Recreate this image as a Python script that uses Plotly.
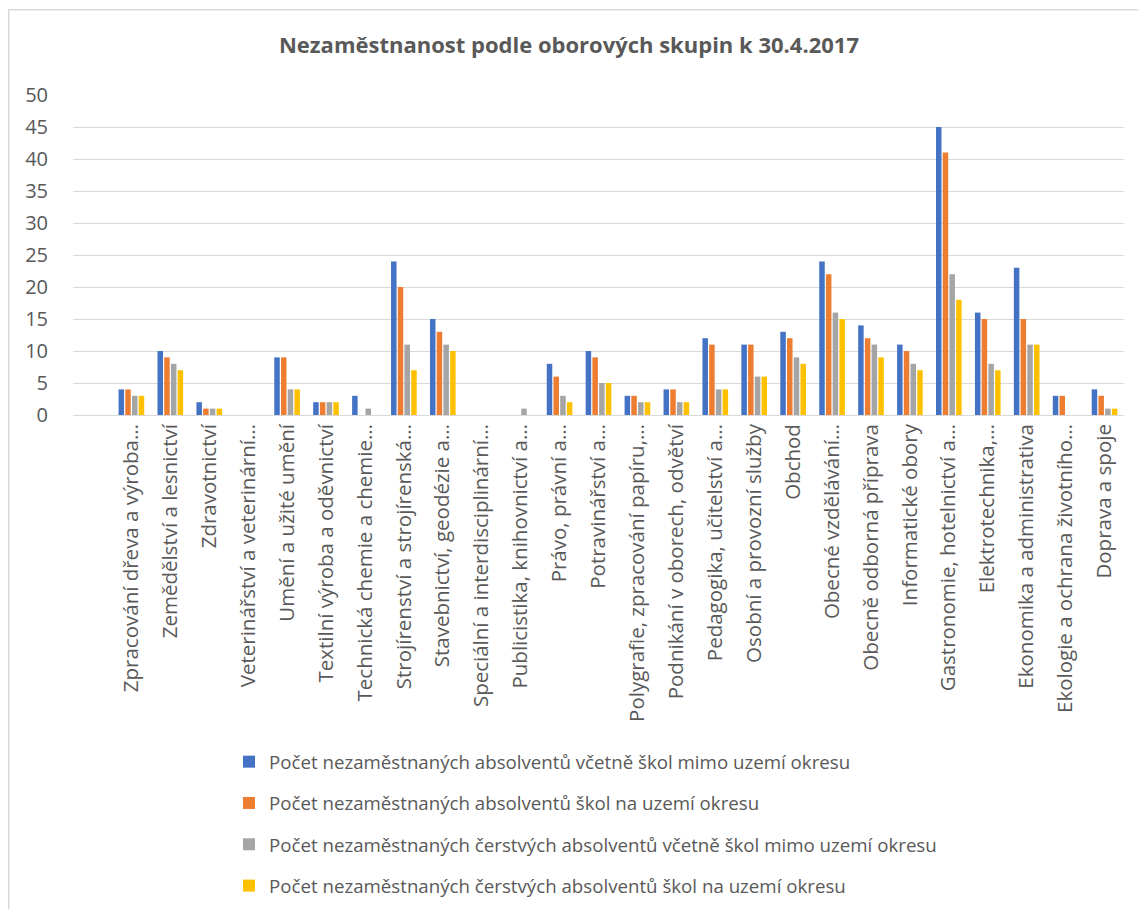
import plotly.graph_objects as go

categories = [
    "Zpracování dřeva a výroba…",
    "Zemědělství a lesnictví",
    "Zdravotnictví",
    "Veterinářství a veterinární…",
    "Umění a užité umění",
    "Textilní výroba a oděvnictví",
    "Technická chemie a chemie…",
    "Strojírenství a strojírenská…",
    "Stavebnictví, geodézie a…",
    "Speciální a interdisciplinární…",
    "Publicistika, knihovnictví a…",
    "Právo, právní a…",
    "Potravinářství a…",
    "Polygrafie, zpracování papíru,…",
    "Podnikání v oborech, odvětví",
    "Pedagogika, učitelství a…",
    "Osobní a provozní služby",
    "Obchod",
    "Obecné vzdělávání…",
    "Obecně odborná příprava",
    "Informatické obory",
    "Gastronomie, hotelnictví a…",
    "Elektrotechnika,…",
    "Ekonomika a administrativa",
    "Ekologie a ochrana životního…",
    "Doprava a spoje",
]

absolventi_vcetne_mimo = [4, 10, 2, 0, 9, 2, 3, 24, 15, 0, 0, 8, 10, 3, 4, 12, 11, 13, 24, 14, 11, 45, 16, 23, 3, 4]
absolventi_na_uzemi = [4, 9, 1, 0, 9, 2, 0, 20, 13, 0, 0, 6, 9, 3, 4, 11, 11, 12, 22, 12, 10, 41, 15, 15, 3, 3]
cerstvi_vcetne_mimo = [3, 8, 1, 0, 4, 2, 1, 11, 11, 0, 1, 3, 5, 2, 2, 4, 6, 9, 16, 11, 8, 22, 8, 11, 0, 1]
cerstvi_na_uzemi = [3, 7, 1, 0, 4, 2, 0, 7, 10, 0, 0, 2, 5, 2, 2, 4, 6, 8, 15, 9, 7, 18, 7, 11, 0, 1]

series_names = [
    "Počet nezaměstnaných absolventů včetně škol mimo uzemí okresu",
    "Počet nezaměstnaných absolventů škol na uzemí okresu",
    "Počet nezaměstnaných čerstvých absolventů včetně škol mimo uzemí okresu",
    "Počet nezaměstnaných čerstvých absolventů škol na uzemí okresu",
]
series_values = [absolventi_vcetne_mimo, absolventi_na_uzemi, cerstvi_vcetne_mimo, cerstvi_na_uzemi]
colors = ["#4472C4", "#ED7D31", "#A5A5A5", "#FFC000"]

y_ticks = list(range(0, 51, 5))

FONT = "Open Sans"
TXT = "#595959"

fig = go.Figure()
for i, (name, vals, col) in enumerate(zip(series_names, series_values, colors)):
    fig.add_trace(go.Bar(
        x=categories, y=vals, name=name, marker=dict(color=col, line=dict(width=0)),
        legendgroup=f"g{i}",
    ))

W, H = 1138, 909
L, T = 73, 95
R = W - 1124
B = H - 415
pw, ph = W - L - R, H - T - B

def px_x(x):
    return (x - L) / pw

def px_y(y):
    return (H - B - y) / ph

border = dict(color="#D9D9D9", width=1.5)

fig.update_layout(
    width=W, height=H,
    margin=dict(l=L, r=R, t=T, b=B, autoexpand=False),
    paper_bgcolor="white", plot_bgcolor="white",
    barmode="group", bargap=0.31, bargroupgap=0.18,
    font=dict(family=FONT, color=TXT),
    title=dict(
        text="<b>Nezaměstnanost podle oborových skupin k 30.4.2017</b>",
        x=0.5, xanchor="center", y=1 - 45 / H, yanchor="middle",
        font=dict(family=FONT, size=22, color=TXT),
    ),
    xaxis=dict(
        type="category", range=[-1.5, 25.5], tickangle=-90,
        tickfont=dict(family=FONT, size=20.5, color=TXT),
        showgrid=False, showline=False, ticks="", zeroline=False,
        ticklabelstandoff=4, automargin=False,
    ),
    yaxis=dict(
        range=[0, 50], tickvals=y_ticks, tickfont=dict(family=FONT, size=20, color=TXT),
        showgrid=True, gridcolor="#D9D9D9", gridwidth=1.3, zeroline=True,
        zerolinecolor="#D9D9D9", zerolinewidth=1.3, showline=False, ticks="",
        ticklabelstandoff=24, automargin=False,
    ),
    legend=dict(
        orientation="v", x=px_x(229), xanchor="left", y=px_y(743), yanchor="top",
        font=dict(family=FONT, size=18.7, color=TXT),
        traceorder="grouped", tracegroupgap=14, itemwidth=30,
        bgcolor="rgba(0,0,0,0)",
    ),
    showlegend=True,
    shapes=[
        dict(type="line", xref="paper", yref="paper",
             x0=px_x(8.75), x1=px_x(8.75), y0=px_y(9), y1=px_y(H + 5), line=border, layer="below"),
        dict(type="line", xref="paper", yref="paper",
             x0=px_x(8), x1=px_x(W + 5), y0=px_y(9.75), y1=px_y(9.75), line=border, layer="below"),
    ],
)

fig.write_html(
    "out.html",
    config={"displayModeBar": False},
    post_script="document.body.style.margin='0';document.body.style.overflow='hidden';",
)
